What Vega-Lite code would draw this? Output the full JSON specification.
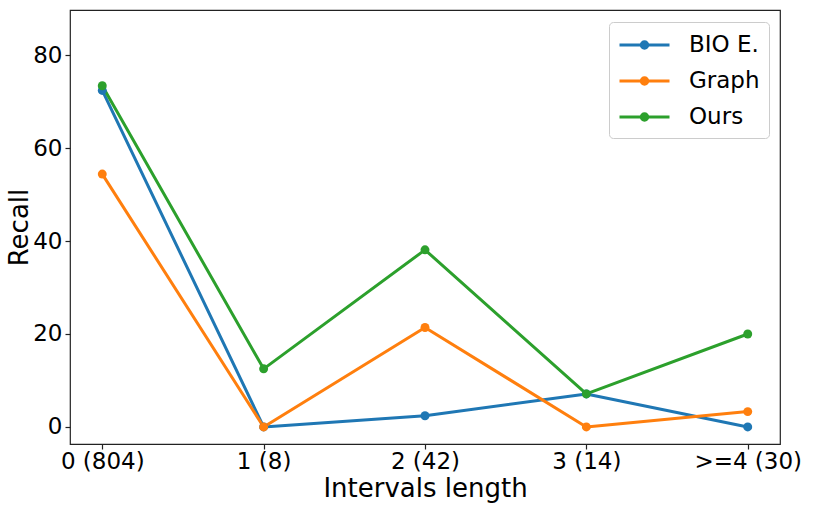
{
  "$schema": "https://vega.github.io/schema/vega-lite/v6.json",
  "autosize": "none",
  "padding": {"left": 70, "top": 10, "right": 34, "bottom": 65},
  "width": 710,
  "height": 434,
  "config": {
    "font": "DejaVu Sans",
    "view": {"stroke": "#222222", "strokeWidth": 1.2},
    "axis": {
      "domain": false,
      "grid": false,
      "tickColor": "#222222",
      "tickSize": 5,
      "tickWidth": 1.2,
      "labelFont": "DejaVu Sans",
      "labelFontSize": 23,
      "labelColor": "black",
      "titleFont": "DejaVu Sans",
      "titleFontSize": 26,
      "titleFontWeight": "normal",
      "titleColor": "black"
    }
  },
  "data": {
    "values": [
      {"method": "BIO E.", "interval": "0 (804)", "recall": 72.4},
      {"method": "BIO E.", "interval": "1 (8)", "recall": 0},
      {"method": "BIO E.", "interval": "2 (42)", "recall": 2.4},
      {"method": "BIO E.", "interval": "3 (14)", "recall": 7.1},
      {"method": "BIO E.", "interval": ">=4 (30)", "recall": 0},
      {"method": "Graph", "interval": "0 (804)", "recall": 54.4},
      {"method": "Graph", "interval": "1 (8)", "recall": 0},
      {"method": "Graph", "interval": "2 (42)", "recall": 21.4},
      {"method": "Graph", "interval": "3 (14)", "recall": 0},
      {"method": "Graph", "interval": ">=4 (30)", "recall": 3.3},
      {"method": "Ours", "interval": "0 (804)", "recall": 73.4},
      {"method": "Ours", "interval": "1 (8)", "recall": 12.5},
      {"method": "Ours", "interval": "2 (42)", "recall": 38.1},
      {"method": "Ours", "interval": "3 (14)", "recall": 7.1},
      {"method": "Ours", "interval": ">=4 (30)", "recall": 20.0}
    ]
  },
  "encoding": {
    "x": {
      "field": "interval",
      "type": "ordinal",
      "title": "Intervals length",
      "scale": {
        "type": "point",
        "domain": ["0 (804)", "1 (8)", "2 (42)", "3 (14)", ">=4 (30)"],
        "padding": 0.2
      },
      "axis": {"labelAngle": 0, "labelPadding": 1, "titlePadding": 2}
    },
    "y": {
      "field": "recall",
      "type": "quantitative",
      "title": "Recall",
      "scale": {"domain": [-3.67, 89.7], "nice": false, "zero": false},
      "axis": {"values": [0, 20, 40, 60, 80], "labelPadding": 3, "titlePadding": 0}
    },
    "color": {
      "field": "method",
      "type": "nominal",
      "scale": {
        "domain": ["BIO E.", "Graph", "Ours"],
        "range": ["#1f77b4", "#ff7f0e", "#2ca02c"]
      },
      "legend": {
        "title": null,
        "orient": "none",
        "legendX": 539,
        "legendY": 12,
        "padding": 9,
        "fillColor": "rgba(255,255,255,0.8)",
        "strokeColor": "#cccccc",
        "cornerRadius": 4,
        "labelFont": "DejaVu Sans",
        "labelFontSize": 23,
        "labelColor": "black",
        "labelOffset": 43,
        "rowPadding": 10,
        "symbolType": "M-1,0L3,0M1.26,0A0.26,0.26,0,1,1,0.74,0A0.26,0.26,0,1,1,1.26,0Z",
        "symbolSize": 625,
        "symbolStrokeWidth": 3,
        "encode": {
          "symbols": {
            "update": {
              "fill": {"scale": "color", "field": "value"},
              "stroke": {"scale": "color", "field": "value"},
              "opacity": {"value": 1}
            }
          }
        }
      }
    }
  },
  "layer": [
    {"mark": {"type": "line", "strokeWidth": 3, "strokeJoin": "round"}},
    {"mark": {"type": "point", "filled": true, "opacity": 1, "size": 80}}
  ]
}
